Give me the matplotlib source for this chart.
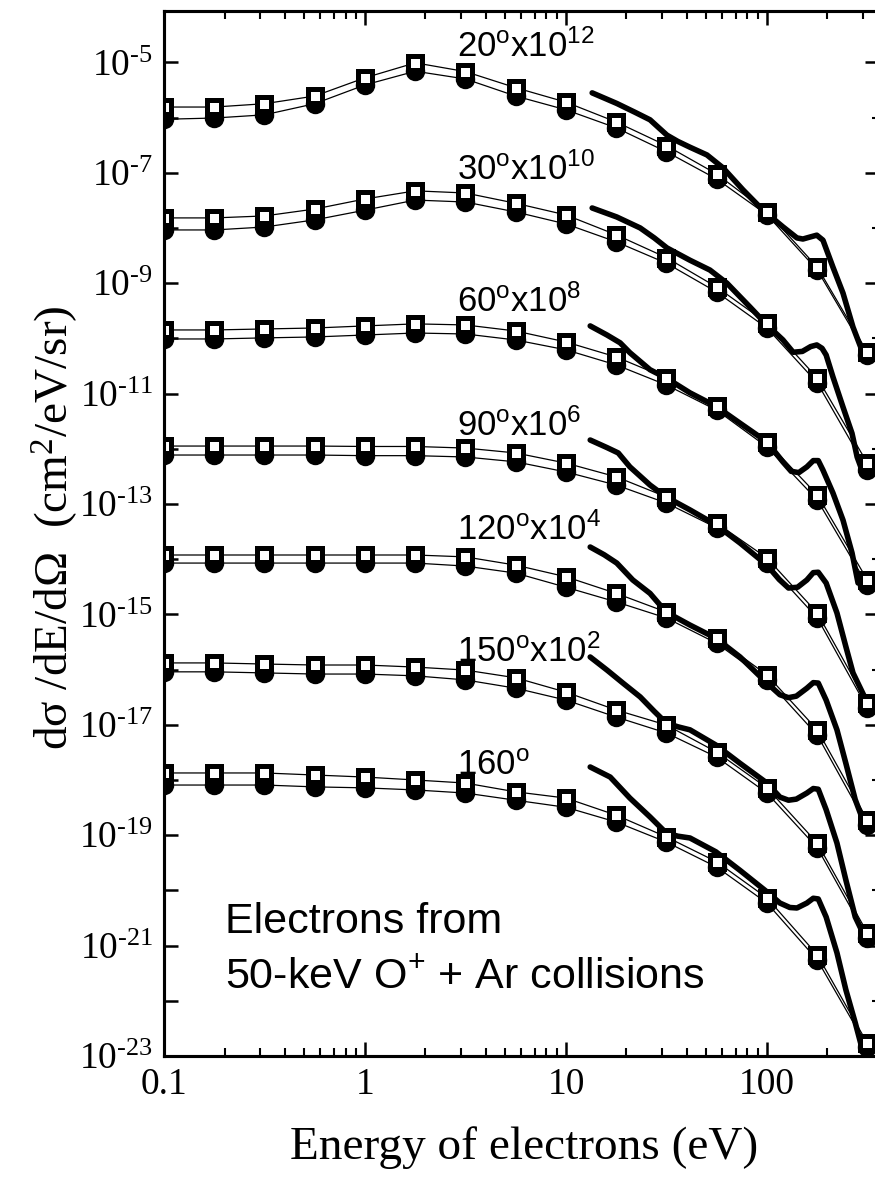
import matplotlib
matplotlib.use("Agg")
import matplotlib.pyplot as plt
import numpy as np
from matplotlib.ticker import FixedLocator, FuncFormatter, LogLocator, NullFormatter

plt.rcParams["mathtext.fontset"] = "custom"
plt.rcParams["mathtext.rm"] = "Liberation Serif"
plt.rcParams["mathtext.it"] = "Liberation Serif:italic"
plt.rcParams["mathtext.bf"] = "Liberation Serif:bold"
plt.rcParams["mathtext.sf"] = "Liberation Sans"

# --- data (raw cross sections, cm^2/eV/sr) ---
energy = [0.1, 0.178, 0.316, 0.562, 1.0, 1.78, 3.16, 5.62, 10, 17.8, 31.6, 56.2, 100, 178, 316]

angles = [20, 30, 60, 90, 120, 150, 160]
scale_exp = [12, 10, 8, 6, 4, 2, 0]

sq_20 = [1.55e-18, 1.55e-18, 1.78e-18, 2.45e-18, 5.25e-18, 9.8e-18, 6.8e-18, 3.47e-18,
         1.9e-18, 8.3e-19, 3.1e-19, 9.5e-20, 1.95e-20, 1.95e-21, 5.6e-23]
ci_20 = [9.3e-19, 9.8e-19, 1.12e-18, 1.78e-18, 3.9e-18, 6.9e-18, 5.0e-18, 2.45e-18,
         1.38e-18, 6.5e-19, 2.4e-19, 7.7e-20, 1.73e-20, 1.73e-21, 5.0e-23]
sq_30 = [1.52e-18, 1.52e-18, 1.65e-18, 2.2e-18, 3.35e-18, 4.7e-18, 4.3e-18, 2.8e-18,
         1.72e-18, 7.5e-19, 2.9e-19, 8.5e-20, 1.9e-20, 1.92e-21, 5.5e-23]
ci_30 = [9.2e-19, 9.2e-19, 1.04e-18, 1.4e-18, 2.1e-18, 3.2e-18, 2.95e-18, 1.95e-18,
         1.18e-18, 5.6e-19, 2.3e-19, 6.9e-20, 1.54e-20, 1.56e-21, 4.1e-23]
sq_60 = [1.42e-18, 1.42e-18, 1.48e-18, 1.54e-18, 1.68e-18, 1.83e-18, 1.75e-18, 1.36e-18,
         8.6e-19, 4.6e-19, 1.92e-19, 5.9e-20, 1.33e-20, 1.46e-21, 4.2e-23]
ci_60 = [9.75e-19, 9.75e-19, 1.02e-18, 1.06e-18, 1.15e-18, 1.25e-18, 1.2e-18, 9.35e-19,
         6.2e-19, 3.3e-19, 1.43e-19, 5.0e-20, 1.08e-20, 1.18e-21, 3.4e-23]
sq_90 = [1.12e-18, 1.12e-18, 1.12e-18, 1.12e-18, 1.1e-18, 1.1e-18, 1.03e-18, 8.4e-19,
         5.5e-19, 3.1e-19, 1.34e-19, 4.5e-20, 1.05e-20, 1.06e-21, 2.5e-23]
ci_90 = [7.7e-19, 7.7e-19, 7.7e-19, 7.7e-19, 7.5e-19, 7.5e-19, 7.1e-19, 5.8e-19,
         3.8e-19, 2.2e-19, 1.04e-19, 3.7e-20, 8.5e-21, 8.6e-22, 2.0e-23]
sq_120 = [1.19e-18, 1.19e-18, 1.19e-18, 1.19e-18, 1.19e-18, 1.19e-18, 1.1e-18, 7.8e-19,
          4.8e-19, 2.4e-19, 1.1e-19, 3.7e-20, 8.0e-21, 8.1e-22, 1.9e-23]
ci_120 = [8.5e-19, 8.5e-19, 8.5e-19, 8.5e-19, 8.5e-19, 8.5e-19, 7.5e-19, 5.6e-19,
          3.1e-19, 1.68e-19, 8.6e-20, 3.0e-20, 6.5e-21, 6.5e-22, 1.5e-23]
sq_150 = [1.32e-18, 1.32e-18, 1.26e-18, 1.21e-18, 1.21e-18, 1.11e-18, 9.8e-19, 7.1e-19,
          3.9e-19, 1.85e-19, 9.9e-20, 3.2e-20, 7.2e-21, 7.2e-22, 1.7e-23]
ci_150 = [9.1e-19, 9.1e-19, 8.7e-19, 8.3e-19, 8.3e-19, 7.7e-19, 6.5e-19, 4.6e-19,
          2.8e-19, 1.38e-19, 7.1e-20, 2.6e-20, 5.8e-21, 5.9e-22, 1.4e-23]
sq_160 = [1.34e-18, 1.34e-18, 1.34e-18, 1.23e-18, 1.13e-18, 1.0e-18, 8.8e-19, 6.1e-19,
          4.7e-19, 2.3e-19, 9.3e-20, 3.3e-20, 7.3e-21, 6.8e-22, 1.7e-23]
ci_160 = [8.1e-19, 8.1e-19, 8.1e-19, 7.5e-19, 7.2e-19, 6.6e-19, 5.8e-19, 4.3e-19,
          3.2e-19, 1.73e-19, 7.5e-20, 2.65e-20, 5.9e-21, 5.5e-22, 1.46e-23]

# theory curves (energy in eV, raw cross section)
th20_e = [13.5, 17.9, 22.0, 26.2, 29.0, 31.8, 36.0, 41.4, 50.3, 60.4, 76, 95.5, 120, 141,
          151, 165, 177, 190, 213, 239, 268, 300]
th20_v = [2.8e-18, 1.8e-18, 1.25e-18, 9.1e-19, 6.5e-19, 4.8e-19, 3.7e-19, 2.9e-19, 2.1e-19,
          1.23e-19, 4.9e-20, 2.1e-20, 1.05e-20, 6.6e-21, 6.3e-21, 6.9e-21, 7.4e-21, 6.0e-21,
          1.95e-21, 6.6e-22, 1.6e-22, 5.5e-23]
th30_e = [13.5, 17.9, 23.4, 27.5, 31.8, 41.4, 52.0, 63.2, 82.3, 100, 120, 135, 150, 165, 177,
          188, 197, 213, 239, 265, 281, 297]
th30_v = [2.3e-18, 1.58e-18, 1.0e-18, 6.6e-19, 4.35e-19, 2.6e-19, 1.73e-19, 1.0e-19, 3.7e-20,
          1.75e-20, 9.4e-21, 5.6e-21, 5.8e-21, 7.1e-21, 7.6e-21, 6.6e-21, 5.0e-21, 2.0e-21,
          5.7e-22, 1.9e-22, 7.1e-23, 4.1e-23]
th60_e = [13.2, 16.0, 18.6, 20.8, 26.2, 31.5, 41.4, 55.7, 73.5, 100, 120, 132, 144, 158, 170,
          180, 190, 213, 239, 265, 284]
th60_v = [1.68e-18, 1.15e-18, 8.3e-19, 5.5e-19, 2.7e-19, 1.92e-19, 1.03e-19, 5.9e-20,
          2.9e-20, 1.33e-20, 5.8e-21, 3.9e-21, 3.7e-21, 4.7e-21, 6.1e-21, 6.1e-21, 4.1e-21,
          1.58e-21, 5.1e-22, 1.3e-22, 3.7e-23]
th90_e = [13.2, 16.0, 18.2, 20.8, 26.2, 31.5, 41.4, 55.7, 73.5, 100, 115, 128, 142, 158, 170,
          180, 197, 223, 247, 268, 316]
th90_v = [1.44e-18, 1.05e-18, 8.4e-19, 4.7e-19, 2.2e-19, 1.34e-19, 7.8e-20, 4.2e-20, 1.96e-20,
          7.8e-21, 4.3e-21, 3.0e-21, 3.1e-21, 4.2e-21, 5.7e-21, 5.8e-21, 3.7e-21, 1.06e-21,
          2.6e-22, 8.7e-23, 2.5e-23]
th120_e = [13.2, 15.5, 17.9, 21.5, 26.2, 31.5, 41.4, 55.7, 73.5, 100, 116, 128, 140, 158,
           170, 180, 197, 223, 247, 275, 300]
th120_v = [1.66e-18, 1.2e-18, 8.5e-19, 4.2e-19, 2.4e-19, 1.1e-19, 6.4e-20, 3.7e-20, 1.69e-20,
           5.7e-21, 3.5e-21, 3.1e-21, 3.3e-21, 4.6e-21, 5.8e-21, 5.7e-21, 2.8e-21, 8.1e-22,
           2.0e-22, 4.4e-23, 1.9e-23]
th150_e = [13.2, 16.0, 19.2, 23.4, 27.5, 31.5, 36.0, 41.4, 55.7, 73.5, 100, 116, 128, 140,
           158, 170, 180, 197, 223, 247, 275, 300]
th150_v = [1.69e-18, 9.8e-19, 5.7e-19, 3.2e-19, 1.75e-19, 1.08e-19, 9.2e-20, 8.1e-20, 4.3e-20,
           2.0e-20, 8.8e-21, 4.9e-21, 4.3e-21, 4.5e-21, 5.8e-21, 7.0e-21, 6.8e-21, 2.9e-21,
           7.2e-22, 1.54e-22, 3.3e-23, 1.7e-23]
th160_e = [13.2, 16.6, 20.8, 26.2, 31.5, 36.0, 41.4, 55.7, 73.5, 100, 116, 130, 141, 158, 170,
           180, 197, 223, 247, 275, 296]
th160_v = [1.72e-18, 1.13e-18, 4.7e-19, 2.14e-19, 1.1e-19, 9.6e-20, 8.9e-20, 5.0e-20, 2.3e-20,
           9.4e-21, 5.9e-21, 4.9e-21, 4.8e-21, 5.9e-21, 7.2e-21, 7.0e-21, 3.3e-21, 7.4e-22,
           1.58e-22, 4.0e-23, 1.46e-23]

squares = [sq_20, sq_30, sq_60, sq_90, sq_120, sq_150, sq_160]
circles = [ci_20, ci_30, ci_60, ci_90, ci_120, ci_150, ci_160]
theory = [(th20_e, th20_v), (th30_e, th30_v), (th60_e, th60_v), (th90_e, th90_v),
          (th120_e, th120_v), (th150_e, th150_v), (th160_e, th160_v)]

# label baselines (plot units) for each angle tag
label_y = [1.25e-5, 7.4e-8, 3.0e-10, 1.7e-12, 2.2e-14, 1.37e-16, 1.23e-18]

W, H = 875, 1187
fig = plt.figure(figsize=(W / 100, H / 100), dpi=100)
ax = fig.add_axes([164 / W, 1 - 1056 / H, (879 - 164) / W, (1056 - 11) / H])
ax.set_xscale("log")
ax.set_yscale("log")

for k in range(len(angles)):
    f = 10.0 ** scale_exp[k]
    ci = np.array(circles[k]) * f
    sq = np.array(squares[k]) * f
    te, tv = theory[k]
    ax.plot(energy, ci, color="black", lw=0.9, zorder=2)
    ax.plot(energy, sq, color="black", lw=0.9, zorder=2)
    ax.plot(te, np.array(tv) * f, color="black", lw=4.0, solid_joinstyle="round",
            solid_capstyle="round", zorder=3)
    ax.plot(energy, ci, ls="none", marker="o", ms=14, mfc="black", mec="black",
            mew=0, zorder=4)
    ax.plot(energy, sq, ls="none", marker="s", ms=9.4, mfc="white", mec="black",
            mew=3.6, zorder=5)
    if scale_exp[k] > 0:
        tag = r"$\mathsf{%d^{o}x10^{%d}}$" % (angles[k], scale_exp[k])
    else:
        tag = r"$\mathsf{%d^{o}}$" % angles[k]
    ax.text(2.87, label_y[k], tag, fontsize=25, va="baseline", ha="left", zorder=6)

ax.text(0.2, 1.7e-21, "Electrons from", family="Liberation Sans", fontsize=31,
        va="baseline", ha="left")
ax.text(0.2, 1.7e-22, r"50-keV $\mathsf{O^{+}}$ + Ar collisions", family="Liberation Sans",
        fontsize=31, va="baseline", ha="left")

ax.set_xlim(0.1, 361)
ax.set_ylim(1e-23, 10 ** -4.07)

# x ticks
ax.xaxis.set_major_locator(FixedLocator([0.1, 1, 10, 100]))
ax.xaxis.set_major_formatter(FuncFormatter(lambda v, p: {0.1: "0.1", 1: "1", 10: "10", 100: "100"}.get(v, "")))
ax.xaxis.set_minor_locator(LogLocator(base=10, subs=np.arange(2, 10), numticks=20))
ax.xaxis.set_minor_formatter(NullFormatter())

# y ticks: every decade, labels on odd exponents
decades = [10.0 ** e for e in range(-23, -4)]
ax.yaxis.set_major_locator(FixedLocator(decades))
ax.yaxis.set_minor_locator(FixedLocator([]))


def ylab(v, pos):
    e = int(round(np.log10(v)))
    return r"$\mathrm{10^{\text{-}%d}}$" % abs(e) if e % 2 else ""


ax.yaxis.set_major_formatter(FuncFormatter(ylab))

ax.tick_params(which="major", direction="in", length=10, width=1.8, top=True, right=False,
               labelsize=27, pad=8)
ax.tick_params(which="minor", direction="in", length=5.5, width=1.5, top=True, right=False)
for lab in ax.get_xticklabels() + ax.get_yticklabels():
    lab.set_family("Liberation Serif")
for s in ax.spines.values():
    s.set_linewidth(2.2)

# right-hand ticks: odd decades long, even decades short
ax2 = ax.twinx()
ax2.set_yscale("log")
ax2.set_ylim(ax.get_ylim())
ax2.yaxis.set_major_locator(FixedLocator([10.0 ** e for e in range(-23, -4, 2)]))
ax2.yaxis.set_minor_locator(FixedLocator([10.0 ** e for e in range(-22, -4, 2)]))
ax2.yaxis.set_major_formatter(NullFormatter())
ax2.yaxis.set_minor_formatter(NullFormatter())
ax2.tick_params(which="major", direction="in", length=10, width=1.8)
ax2.tick_params(which="minor", direction="in", length=5, width=1.5)
for s in ax2.spines.values():
    s.set_linewidth(2.2)

fig.text(55 / W, 1 - 528 / H, "d\u03c3 /dE/d\u03a9  (cm$^{2}$/eV/sr)",
         family="Liberation Serif", fontsize=34, rotation=90, ha="center", va="center")
fig.text(524 / W, 1 - 1148 / H, "Energy of electrons (eV)", family="Liberation Serif",
         fontsize=34, ha="center", va="center")

fig.savefig("out.png", dpi=100)
